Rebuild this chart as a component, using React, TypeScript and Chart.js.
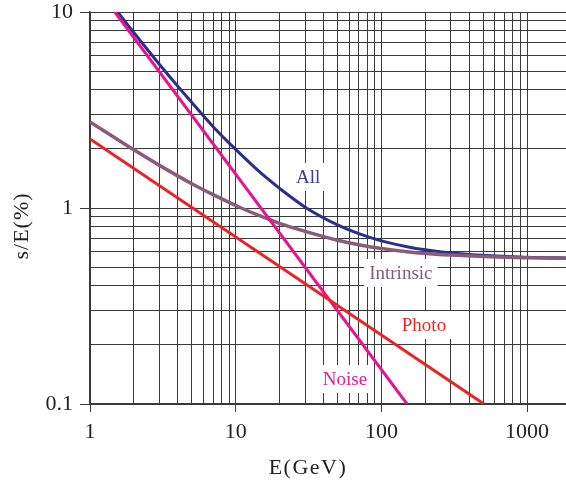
import React, { useEffect, useRef } from "react";
import { Chart, registerables } from "chart.js";

Chart.register(...registerables);

// Energy axis ticks (GeV) and resolution axis ticks (%)
const X_GRID = [1, 2, 3, 4, 5, 6, 7, 8, 9, 10, 20, 30, 40, 50, 60, 70, 80, 90, 100, 200, 300, 400, 500, 600, 700, 800, 900, 1000];
const X_LABELS = [1, 10, 100, 1000];
const Y_GRID = [0.1, 0.2, 0.3, 0.4, 0.5, 0.6, 0.7, 0.8, 0.9, 1, 2, 3, 4, 5, 6, 7, 8, 9, 10];
const Y_LABELS = [0.1, 1, 10];
const X_TITLE = "E(GeV)";
const Y_TITLE = "s/E(%)";

// Series
const NOISE_E = [1.48, 150];
const NOISE_V = [10, 0.1];
const PHOTO_E = [1, 506];
const PHOTO_V = [2.25, 0.1];
const INTR_E = [1, 2, 3, 5, 7, 10, 15, 20, 30, 50, 70, 100, 150, 200, 300, 500, 700, 1000, 2000];
const INTR_V = [2.75, 1.98, 1.65, 1.33, 1.17, 1.03, 0.905, 0.835, 0.76, 0.685, 0.65, 0.622, 0.598, 0.586, 0.575, 0.565, 0.56, 0.557, 0.553];
const ALL_E = [1.5, 2, 3, 5, 7, 10, 15, 20, 30, 50, 70, 100, 150, 200, 300, 500, 700, 1000, 2000];
const ALL_V = [10.3, 7.85, 5.4, 3.45, 2.6, 1.99, 1.5, 1.26, 1.01, 0.82, 0.74, 0.68, 0.635, 0.612, 0.59, 0.574, 0.567, 0.561, 0.556];

// Curve labels: text, anchor (E, value), colour
const LABEL_TEXT = ["All", "Intrinsic", "Photo", "Noise"];
const LABEL_E = [31.4, 136, 196, 56.3];
const LABEL_V = [1.44, 0.466, 0.253, 0.134];
const LABEL_COLORS = ["#3b3b9b", "#8a5a78", "#ee2424", "#ea1a96"];

const COLORS = { all: "#2a2e8e", intr: "#8b5b7a", photo: "#ee2222", noise: "#e6148f" };

const toPts = (xs: number[], ys: number[]) => xs.map((x, i) => ({ x, y: ys[i] }));

const FONT = "'Liberation Serif', 'DejaVu Serif', serif";

const labelPlugin = {
  id: "curveLabels",
  beforeDatasetsDraw(chart: any) {
    const { ctx, scales } = chart;
    ctx.save();
    ctx.font = `19px ${FONT}`;
    ctx.textAlign = "center";
    ctx.textBaseline = "middle";
    LABEL_TEXT.forEach((t, i) => {
      const px = scales.x.getPixelForValue(LABEL_E[i]);
      const py = scales.y.getPixelForValue(LABEL_V[i]);
      const w = ctx.measureText(t).width + 10;
      const h = 28;
      ctx.fillStyle = "#ffffff";
      ctx.fillRect(px - w / 2, py - h / 2, w, h);
      ctx.fillStyle = LABEL_COLORS[i];
      ctx.fillText(t, px, py + 1);
    });
    ctx.restore();
  },
};

const titlePlugin = {
  id: "axisTitles",
  afterDraw(chart: any) {
    const { ctx, chartArea } = chart;
    ctx.save();
    ctx.fillStyle = "#222";
    ctx.font = `22px ${FONT}`;
    ctx.textAlign = "center";
    ctx.textBaseline = "middle";
    try { (ctx as any).letterSpacing = "1.5px"; } catch (e) {}
    ctx.fillText(X_TITLE, chartArea.left + 218, chartArea.bottom + 64);
    try { (ctx as any).letterSpacing = "1px"; } catch (e) {}
    ctx.translate(22, chartArea.top + 214);
    ctx.rotate(-Math.PI / 2);
    ctx.fillText(Y_TITLE, 0, 0);
    ctx.restore();
  },
};

export default function App() {
  const ref = useRef<HTMLCanvasElement | null>(null);
  useEffect(() => {
    if (!ref.current) return;
    const gridColor = "#3a3a3a";
    const chart = new Chart(ref.current, {
      type: "line",
      data: {
        datasets: [
          { label: "Photo", data: toPts(PHOTO_E, PHOTO_V), borderColor: COLORS.photo, borderWidth: 3, pointRadius: 0, fill: false },
          { label: "Noise", data: toPts(NOISE_E, NOISE_V), borderColor: COLORS.noise, borderWidth: 3, pointRadius: 0, fill: false },
          { label: "Intrinsic", data: toPts(INTR_E, INTR_V), borderColor: COLORS.intr, borderWidth: 3.5, pointRadius: 0, fill: false, cubicInterpolationMode: "monotone" },
          { label: "All", data: toPts(ALL_E, ALL_V), borderColor: COLORS.all, borderWidth: 3, pointRadius: 0, fill: false, cubicInterpolationMode: "monotone" },
        ],
      },
      options: {
        animation: false,
        responsive: false,
        maintainAspectRatio: false,
        layout: { padding: { top: 12, right: 0, left: 0, bottom: 0 } },
        plugins: { legend: { display: false }, tooltip: { enabled: false } },
        scales: {
          x: {
            type: "logarithmic",
            min: 1,
            max: 1850,
            afterBuildTicks: (s: any) => {
              s.ticks = X_GRID.map((v) => ({ value: v }));
            },
            afterFit: (s: any) => {
              s.height = 80;
              s.paddingLeft = 0;
              s.paddingRight = 0;
            },
            ticks: {
              autoSkip: false,
              maxRotation: 0,
              padding: 7,
              color: "#222",
              font: { family: FONT, size: 22 },
              callback: (v: any) => (X_LABELS.includes(Number(v)) ? String(v) : ""),
            },
            grid: {
              color: gridColor,
              lineWidth: 1,
              tickLength: 8,
              tickColor: (c: any) => (X_LABELS.includes(c.tick?.value) ? gridColor : "rgba(0,0,0,0)"),
            },
            border: { display: true, color: gridColor, width: 1.5 },
            title: { display: false },
          },
          y: {
            type: "logarithmic",
            min: 0.1,
            max: 10,
            afterBuildTicks: (s: any) => {
              s.ticks = Y_GRID.map((v) => ({ value: v }));
            },
            afterFit: (s: any) => {
              s.width = 90;
              s.paddingTop = 0;
              s.paddingBottom = 0;
            },
            ticks: {
              autoSkip: false,
              padding: 7,
              color: "#222",
              font: { family: FONT, size: 22 },
              callback: (v: any) => (Y_LABELS.includes(Number(v)) ? String(v) : ""),
            },
            grid: {
              color: gridColor,
              lineWidth: 1,
              tickLength: 10,
              tickColor: (c: any) => (Y_LABELS.includes(c.tick?.value) ? gridColor : "rgba(0,0,0,0)"),
            },
            border: { display: true, color: gridColor, width: 1.5 },
            title: { display: false },
          },
        },
      },
      plugins: [labelPlugin, titlePlugin],
    } as any);
    return () => chart.destroy();
  }, []);
  return (
    <div style={{ position: "fixed", left: 0, top: 0, width: 566, height: 484, background: "#fff" }}>
      <canvas ref={ref} width={566} height={484} style={{ width: 566, height: 484, display: "block" }} />
    </div>
  );
}
